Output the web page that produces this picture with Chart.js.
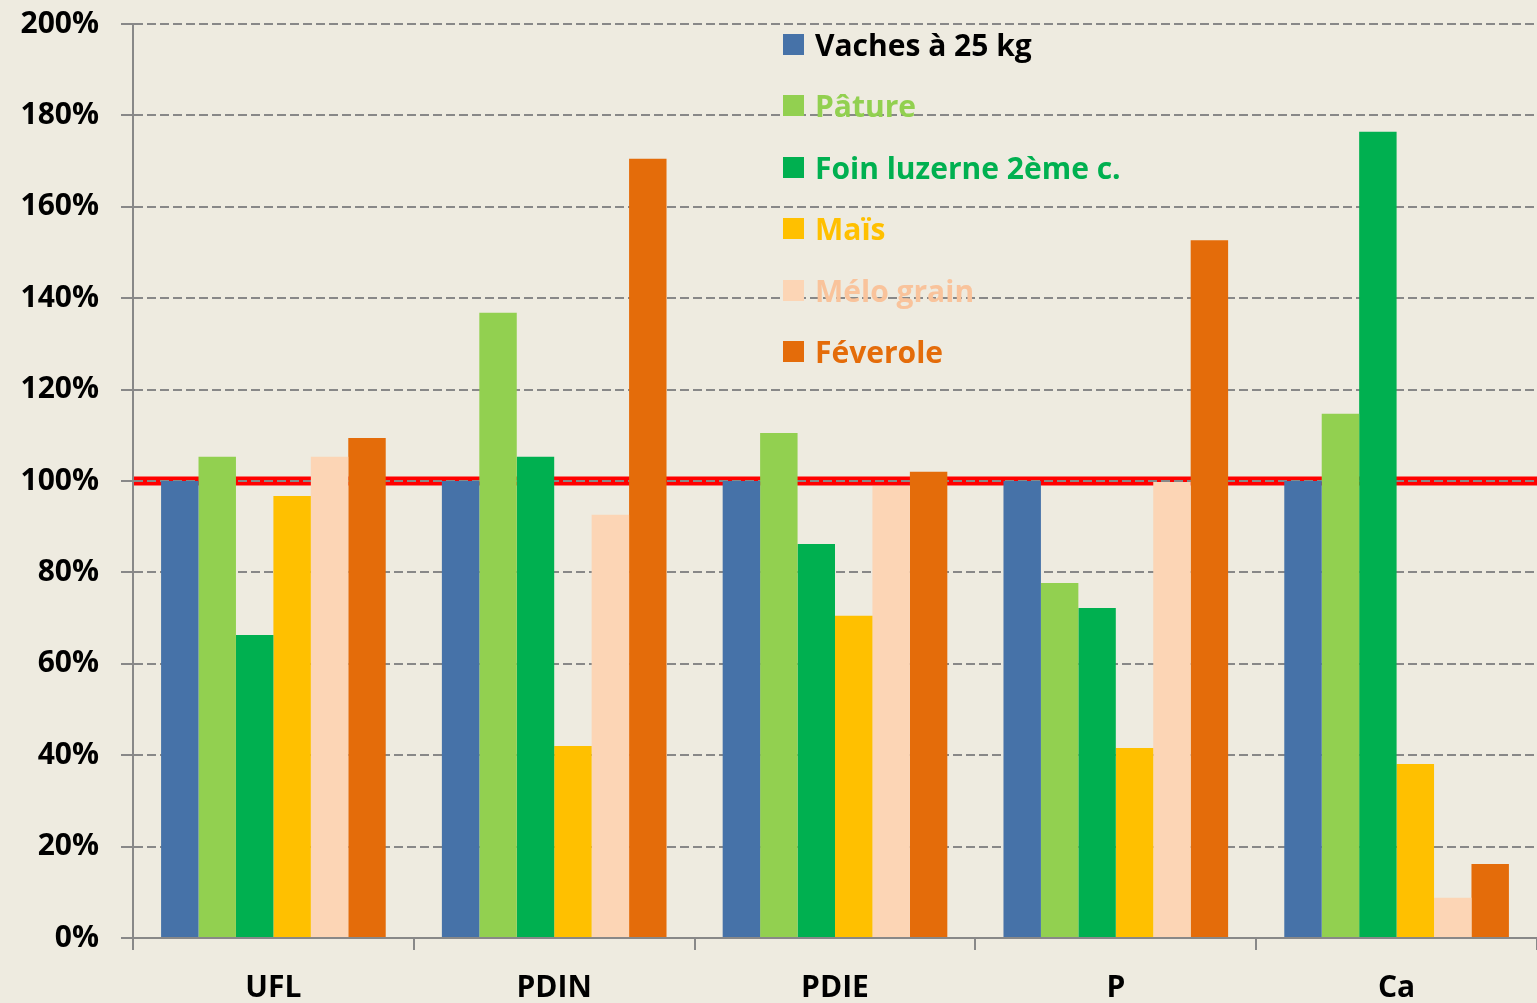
<!DOCTYPE html>
<html>
<head>
<meta charset="utf-8">
<script src="https://cdn.jsdelivr.net/npm/chart.js@4.4.1/dist/chart.umd.min.js"></script>
<style>
  html, body { margin: 0; padding: 0; background: #EEEBE0; }
  #wrap { position: relative; width: 1537px; height: 1003px; }
  #legende { position: absolute; left: 783px; top: 25px; font-family: "Open Sans", sans-serif; font-weight: 700; font-size: 30px; }
  .item { display: flex; align-items: center; height: 38px; margin-bottom: 23.6px; }
  .carre { width: 21px; height: 21px; margin-right: 11px; }
</style>
</head>
<body>
<div id="wrap">
  <canvas id="grafico" width="1537" height="1003"></canvas>
  <div id="legende"></div>
</div>
<script>
// DONNÉES
const categories = ["UFL", "PDIN", "PDIE", "P", "Ca"];
const series = ["Vaches à 25 kg", "Pâture", "Foin luzerne 2ème c.", "Maïs", "Mélo grain", "Féverole"];

const vaches   = [100, 100, 100, 100, 100];
const pature   = [105.3, 136.8, 110.5, 77.7, 114.7];
const foin     = [66.3, 105.3, 86.2, 72.2, 176.4];
const mais     = [96.7, 42.0, 70.5, 41.6, 38.1];
const melo     = [105.3, 92.6, 98.9, 99.8, 8.8];
const feverole = [109.4, 170.5, 102.0, 152.7, 16.2];

const yTicks = [0, 20, 40, 60, 80, 100, 120, 140, 160, 180, 200];
const reference = 100;

const couleurs = ["#4672A8", "#92D050", "#00B050", "#FFC000", "#FCD5B5", "#E46C0A"];
const couleursTexte = ["#000000", "#92D050", "#00B050", "#FFC000", "#F9C39B", "#E46C0A"];
const valeurs = [vaches, pature, foin, mais, melo, feverole];

// LIGNE ROUGE À 100%
const ligneRouge = {
  id: "ligneRouge",
  beforeDraw(chart) {
    const ctx = chart.ctx;
    const y = chart.scales.y.getPixelForValue(reference);
    ctx.save();
    ctx.strokeStyle = "#FF0000";
    ctx.lineWidth = 9;
    ctx.beginPath();
    ctx.moveTo(chart.chartArea.left, y);
    ctx.lineTo(chart.chartArea.right, y);
    ctx.stroke();
    ctx.restore();
  }
};

const police = { family: "'Open Sans', sans-serif", weight: "bold", size: 30 };

new Chart(document.getElementById("grafico").getContext("2d"), {
  type: "bar",
  data: {
    labels: categories,
    datasets: series.map((nom, i) => ({
      label: nom,
      data: valeurs[i],
      backgroundColor: couleurs[i],
      borderWidth: 0,
      categoryPercentage: 0.8,
      barPercentage: 1.0
    }))
  },
  options: {
    responsive: false,
    animation: false,
    layout: { padding: { top: 24, right: 0, left: 0, bottom: 0 } },
    plugins: { legend: { display: false }, tooltip: { enabled: false } },
    scales: {
      x: {
        grid: { drawOnChartArea: false, color: "#888888", lineWidth: 2, tickLength: 12, offset: true },
        border: { color: "#888888", width: 2 },
        ticks: { color: "#000", font: police, padding: 20 },
        afterFit(s) { s.height = 65; s.paddingLeft = 0; s.paddingRight = 0; }
      },
      y: {
        min: 0,
        max: 200,
        afterBuildTicks(s) { s.ticks = yTicks.map(v => ({ value: v })); },
        grid: { color: "#888888", lineWidth: 2, tickLength: 12 },
        border: { color: "#888888", width: 2, dash: [9, 4] },
        ticks: { color: "#000", font: police, padding: 22, callback: v => v + "%" },
        afterFit(s) { s.width = 133; s.paddingTop = 0; s.paddingBottom = 0; }
      }
    }
  },
  plugins: [ligneRouge]
});

// LÉGENDE
const legende = document.getElementById("legende");
series.forEach((nom, i) => {
  legende.innerHTML += `
    <div class="item">
      <div class="carre" style="background:${couleurs[i]}"></div>
      <span style="color:${couleursTexte[i]}">${nom}</span>
    </div>`;
});
</script>
</body>
</html>
